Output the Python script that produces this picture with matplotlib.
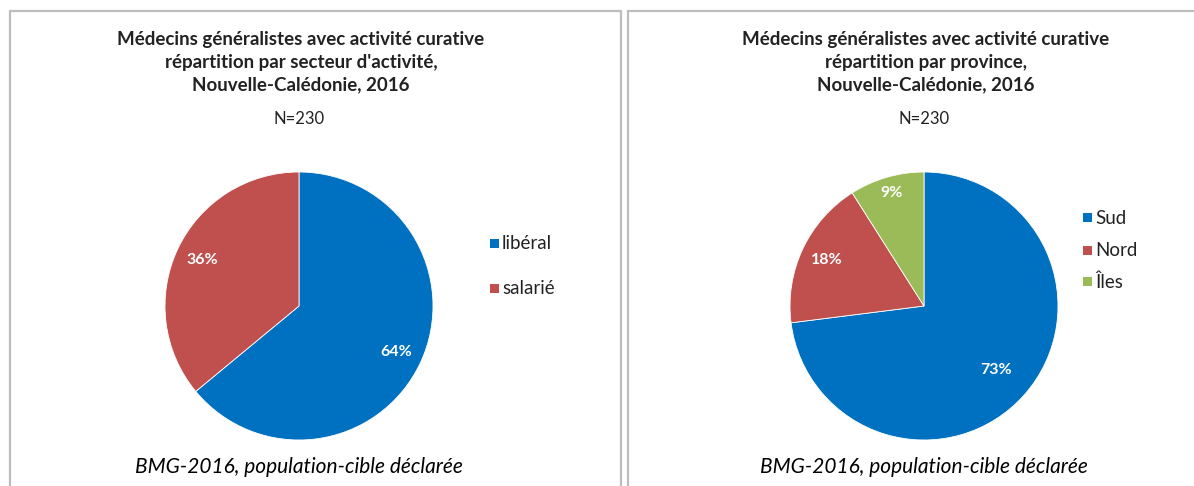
import numpy as np
import matplotlib.pyplot as plt
from matplotlib.patches import Rectangle

# Données BMG-2016
secteurs = ['libéral', 'salarié']
secteurs_pct = [64, 36]
provinces = ['Sud', 'Nord', 'Îles']
provinces_pct = [73, 18, 9]

couleurs = ['#0070C0', '#C0504D', '#9BBB59']
police = 'Lato'

W, H = 1194, 486
fig = plt.figure(figsize=(W / 100, H / 100), dpi=100)
fig.patch.set_facecolor('white')


def px(x, y):
    # pixels -> fraction de la figure
    return x / W, 1 - y / H


# cadres gris des deux graphiques
for x0, x1 in [(10, 621), (628, 1200)]:
    fig.patches.append(Rectangle(px(x0, 495), (x1 - x0) / W, (495 - 11) / H,
                                 transform=fig.transFigure, fill=False,
                                 edgecolor='#BDBDBD', linewidth=1.6))


def camembert(cx, cy, r, valeurs, noms, titre, dist_labels, leg_x, leg_y, leg_gap):
    x, y = px(cx - r, cy + r)
    ax = fig.add_axes([x, y, 2 * r / W, 2 * r / H])
    wedges, _ = ax.pie(valeurs, colors=couleurs[:len(valeurs)], startangle=90,
                       counterclock=False, radius=1,
                       wedgeprops=dict(linewidth=0.6, edgecolor='white'))
    ax.set_xlim(-1, 1)
    ax.set_ylim(-1, 1)
    ax.set_aspect('equal')
    ax.axis('off')
    for w, v, d in zip(wedges, valeurs, dist_labels):
        a = np.radians((w.theta1 + w.theta2) / 2)
        ax.text(d * np.cos(a), d * np.sin(a), f'{v}%', color='white',
                fontsize=11.5, fontweight='bold', family=police,
                ha='center', va='center')
    # titre
    for i, ligne in enumerate(titre):
        fig.text(*px(cx + 2, 40 + i * 22.5), ligne, ha='center', va='center',
                 fontsize=13.5, fontweight='bold', family=police, color='#222222')
    fig.text(*px(cx, 119), 'N=230', ha='center', va='center',
             fontsize=12, family=police, color='#222222')
    # légende
    for i, nom in enumerate(noms):
        yy = leg_y + i * leg_gap
        fig.patches.append(Rectangle(px(leg_x, yy + 4.5), 9 / W, 9 / H,
                                     transform=fig.transFigure,
                                     facecolor=couleurs[i], edgecolor='none'))
        fig.text(*px(leg_x + 12, yy), nom, ha='left', va='center',
                 fontsize=13.5, family=police, color='#222222')
    fig.text(*px(cx, 467), 'BMG-2016, population-cible déclarée', ha='center',
             va='center', fontsize=15, style='italic', family=police, color='black')


camembert(299, 306, 134, secteurs_pct, secteurs,
          ['Médecins généralistes avec activité curative',
           "répartition par secteur d'activité,",
           'Nouvelle-Calédonie, 2016'],
          [0.8, 0.8], 490, 243, 45)

camembert(924, 306, 134, provinces_pct, provinces,
          ['Médecins généralistes avec activité curative',
           'répartition par province,',
           'Nouvelle-Calédonie, 2016'],
          [0.72, 0.8, 0.88], 1083, 218, 32)

fig.savefig('out.png', dpi=100)
